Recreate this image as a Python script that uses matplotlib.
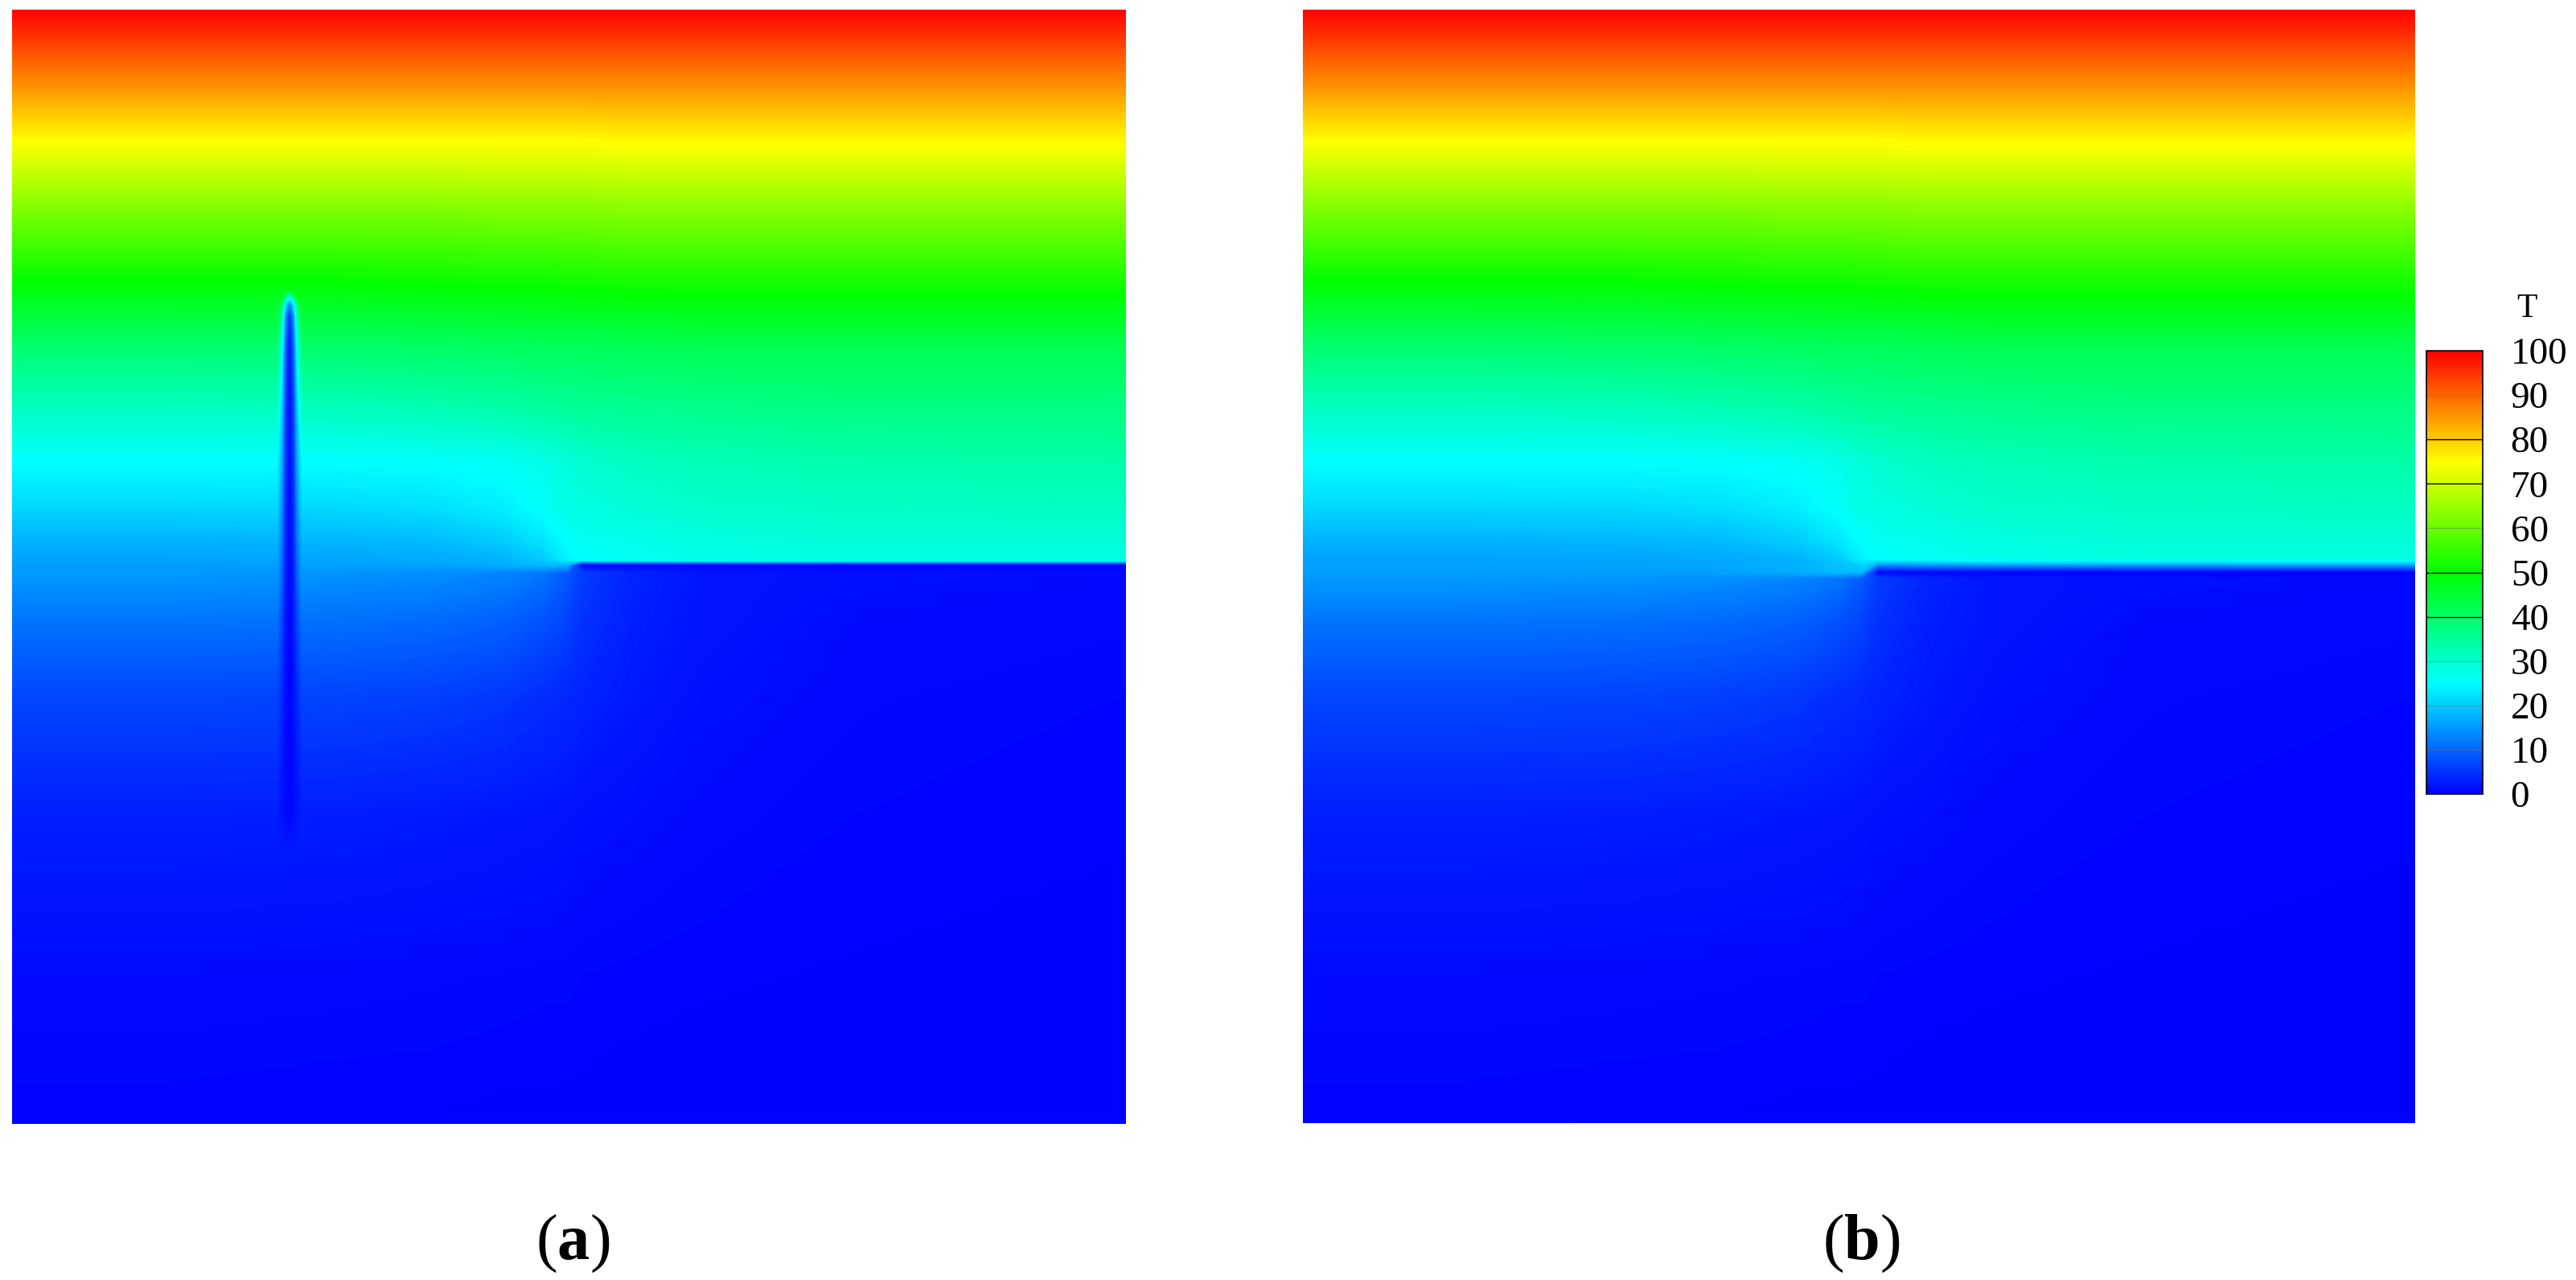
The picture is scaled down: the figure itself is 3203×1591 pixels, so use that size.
import numpy as np
import matplotlib
matplotlib.use('Agg')
import matplotlib.pyplot as plt
from matplotlib.colors import LinearSegmentedColormap, Normalize
from matplotlib.cm import ScalarMappable

plt.rcParams['font.family'] = ['Liberation Serif', 'DejaVu Serif']
plt.rcParams['mathtext.fontset'] = 'custom'
plt.rcParams['mathtext.rm'] = 'Liberation Serif'
plt.rcParams['mathtext.bf'] = 'Liberation Serif:bold'

W, H = 3203, 1591

# temperature, positions in pixels from the panel corner
x_nodes_a = [0, 200, 400, 520, 610, 660, 690, 708, 770, 860, 1050, 1385]
x_nodes_b = [0, 200, 400, 520, 615, 665, 695, 714, 775, 860, 1050, 1384]
y_rows_a = [0, 80, 163, 250, 338, 420, 500, 563, 620, 660, 684, 690, 700, 760, 850, 1000, 1200, 1385]
y_rows_b = [0, 80, 163, 250, 338, 420, 500, 563, 620, 660, 683, 699, 707, 760, 850, 1000, 1200, 1385]
T_field = [
    [100, 100, 100, 100, 100, 100, 100, 100, 100, 100, 100, 100],
    [88, 88, 88, 88, 88, 88, 88, 88, 88, 88, 88, 88],
    [75, 75, 75, 75, 75, 75, 75, 75, 75.5, 75.5, 75.5, 75.5],
    [62, 62, 62, 62, 62.5, 62.5, 62.5, 62.5, 63, 63, 63, 63],
    [50, 50, 50, 50.5, 51, 51, 51.5, 51.5, 52, 52, 52, 52],
    [39, 39, 39.5, 40, 40.5, 41, 41, 41, 41.5, 42, 42, 42],
    [30.5, 30.5, 31, 32, 33, 34, 34.5, 35, 35.5, 36, 37, 37],
    [25, 25, 25, 25.2, 25.8, 27, 28.5, 29.5, 31, 32, 33, 33.5],
    [21, 21, 21.2, 21.8, 23.3, 25.5, 27.5, 28, 29, 30, 30.5, 31],
    [17.5, 17.5, 17.8, 18.3, 20, 22.5, 25, 26, 27, 28, 29, 29],
    [16, 16, 16.2, 16.6, 17.5, 19.5, 23.5, 25, 26, 27, 28, 28],
    [15.5, 15.5, 15.8, 16, 17, 18.5, 18, 0, 0, 0, 0, 0],
    [15, 15, 14.5, 14, 13, 11.5, 9, 6, 3.5, 2, 1.5, 1],
    [11.5, 11.5, 11, 10.5, 9.5, 8, 6.5, 5, 3, 2, 1, 0.8],
    [7, 7, 6.8, 6.3, 5.5, 4.5, 4, 3.5, 2.5, 1.5, 0.8, 0.5],
    [3, 3, 2.8, 2.5, 2.2, 2, 1.8, 1.6, 1.3, 0.9, 0.5, 0.3],
    [1, 1, 0.9, 0.8, 0.7, 0.6, 0.6, 0.5, 0.4, 0.3, 0.2, 0.1],
    [0.3, 0.3, 0.2, 0.2, 0.1, 0.1, 0.1, 0.1, 0, 0, 0, 0],
]

# vertical crack in panel (a): centre, then half profile out from it
crack_x = 345
crack_dx = [16, 10, 5, 0]
crack_y = [348, 354, 366, 380, 420, 500, 563, 620, 684, 760, 850, 1000, 1045]
crack_T = [
    [48.6, 48.6, 48.6, 48.6],
    [47.9, 47.5, 42, 30],
    [46.4, 40, 22, 12],
    [44.4, 34, 14, 4],
    [39.2, 27, 9, 1],
    [30.7, 20, 6, 0.5],
    [25.1, 17, 5, 0.5],
    [21.2, 14, 4, 0.3],
    [16.3, 11, 3, 0.3],
    [11.3, 7, 2, 0.2],
    [6.9, 4, 1.2, 0.2],
    [2.9, 1.8, 0.8, 0.3],
    [2.4, 2.4, 2.4, 2.4],
]

cbar_ticks = [0, 10, 20, 30, 40, 50, 60, 70, 80, 90, 100]
dark_lines = [40, 50, 70, 80]
faint_lines = [10, 20, 30, 60, 90]

rainbow = LinearSegmentedColormap.from_list(
    'small_rainbow', ['#0000ff', '#00ffff', '#00ff00', '#ffff00', '#ff0000'], N=512)
levels = np.linspace(0, 100, 401)


def add_axes_px(fig, left, top, right, bottom):
    return fig.add_axes([left/W, 1 - bottom/H, (right - left)/W, (bottom - top)/H])


def field_panel(fig, left, top, right, bottom, x_nodes, y_rows):
    ax = add_axes_px(fig, left, top, right, bottom)
    ax.contourf(x_nodes, y_rows, T_field, levels=levels, cmap=rainbow, vmin=0, vmax=100)
    ax.set_xlim(0, right - left)
    ax.set_ylim(bottom - top, 0)
    ax.axis('off')
    return ax


fig = plt.figure(figsize=(W/100, H/100), dpi=100)

ax_a = field_panel(fig, 15, 12, 1400, 1397, x_nodes_a, y_rows_a)
ax_b = field_panel(fig, 1620, 12, 3003, 1396, x_nodes_b, y_rows_b)

dx = np.array(crack_dx)
crack_cols = np.concatenate((crack_x - dx, crack_x + dx[-2::-1]))
T_c = np.array(crack_T)
T_c = np.hstack((T_c, T_c[:, -2::-1]))
ax_a.contourf(crack_cols, crack_y, T_c, levels=levels, cmap=rainbow, vmin=0, vmax=100)

cax = add_axes_px(fig, 3017, 436, 3087, 987)
sm = ScalarMappable(norm=Normalize(0, 100), cmap=rainbow)
cb = fig.colorbar(sm, cax=cax, ticks=cbar_ticks)
cb.ax.tick_params(length=0, pad=25, labelsize=34)
cb.outline.set_linewidth(1.2)
cb.outline.set_edgecolor('black')
for v in dark_lines:
    cb.ax.axhline(v, color='black', lw=1.0)
for v in faint_lines:
    cb.ax.axhline(v, color='#707070', lw=0.6, alpha=0.7)

fig.text(3142/W, 1 - 384/H, 'T', fontsize=30, ha='center', va='center')
fig.text(712/W, 1 - 1565/H, r'$\mathrm{(}\mathbf{a}\mathrm{)}$', fontsize=58, ha='center', va='baseline')
fig.text(2314/W, 1 - 1565/H, r'$\mathrm{(}\mathbf{b}\mathrm{)}$', fontsize=58, ha='center', va='baseline')

fig.savefig('out.png', dpi=100)
